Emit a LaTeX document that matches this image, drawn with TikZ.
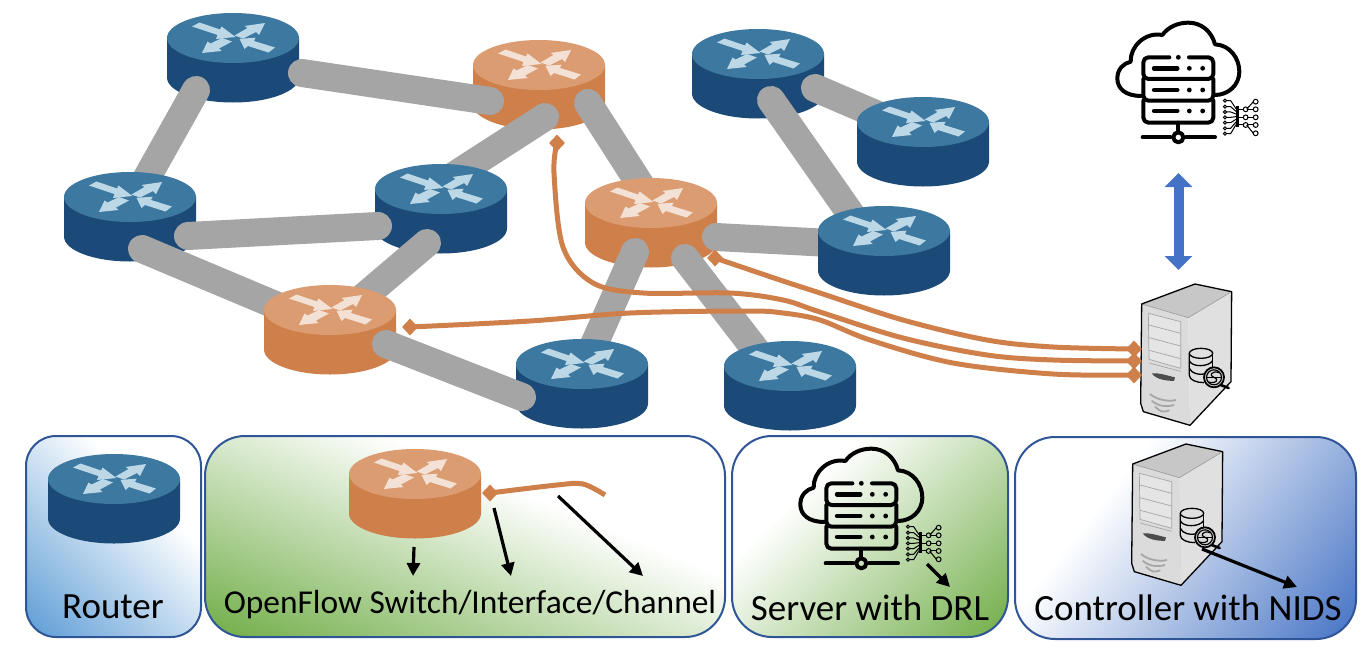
\documentclass[tikz,border=0pt]{standalone}
\usepackage{fontspec}
\setmainfont{Carlito}
\usetikzlibrary{arrows.meta,shapes.geometric,calc}
\definecolor{bluebody}{HTML}{1B4A78}
\definecolor{bluetop}{HTML}{3C789F}
\definecolor{bluearrow}{HTML}{BCD8E6}
\definecolor{orangebody}{HTML}{CF7F49}
\definecolor{orangetop}{HTML}{DC9C72}
\definecolor{orangearrow}{HTML}{F3E1D5}
\definecolor{linkgray}{HTML}{A5A5A5}
\definecolor{boxedge}{HTML}{2F5597}
\definecolor{gradblue}{HTML}{5B9BD5}
\definecolor{gradgreen}{HTML}{70AD47}
\definecolor{graddark}{HTML}{4472C4}
\pgfdeclarehorizontalshading{gradrouter}{100bp}{color(0bp)=(gradblue); color(27.8bp)=(gradblue); color(59.2bp)=(white); color(100bp)=(white)}
\pgfdeclarehorizontalshading{gradflow}{100bp}{color(0bp)=(gradgreen); color(38bp)=(gradgreen); color(53.9bp)=(white); color(100bp)=(white)}
\pgfdeclarehorizontalshading{gradserver}{100bp}{color(0bp)=(white); color(42.15bp)=(white); color(66.8bp)=(gradgreen); color(100bp)=(gradgreen)}
\pgfdeclarehorizontalshading{gradctrl}{100bp}{color(0bp)=(white); color(42.75bp)=(white); color(66.4bp)=(graddark); color(100bp)=(graddark)}
\tikzset{
  glink/.style={draw=linkgray,line width=28pt,line cap=round},
  orline/.style={draw=orangebody,line width=5pt},
  ordiamond/.style={diamond,fill=orangebody,inner sep=0pt,minimum width=16pt,minimum height=17pt},
  blackarrow/.style={draw=black,line width=3.2pt,-{Triangle[width=13pt,length=13pt]}},
  bluearrowline/.style={draw=graddark,line width=10pt,{Triangle[width=27pt,length=14pt]}-{Triangle[width=27pt,length=14pt]}},
  boxedgeline/.style={draw=boxedge,line width=2pt},
  iconline/.style={draw=black,line width=4pt,line cap=round,line join=round},
  chipline/.style={draw=black,line width=1pt},
  lab/.style={inner sep=0pt,text=black}
}
% name, cx, cy, body, top, arrows
\newcommand{\routerfig}[6]{%
  \coordinate (#1) at (#2,#3);
  \begin{scope}[shift={(#2,#3)}]
    \fill[#4] (-66,0) -- (-66,39.5) arc[start angle=180,end angle=360,x radius=66pt,y radius=25pt] -- (66,0) -- cycle;
    \fill[#5] (0,0) ellipse[x radius=66pt,y radius=25pt];
    \fill[#6] (-41,-11.5) -- (-33.5,-15.5) -- (-13,-8.5) -- (-11.5,-11.5) -- (2.5,-1) -- (-17,1) -- (-15.5,-3) -- cycle;
    \fill[#6] (1.5,-2.5) -- (14.5,-10) -- (11.5,-12) -- (32,-15) -- (26,-3) -- (23,-6) -- (10,.5) -- cycle;
    \fill[#6] (-11,0) -- (-1,3.5) -- (-14,10.5) -- (-11.5,13) -- (-31,15) -- (-25.5,3.5) -- (-22.5,5.5) -- cycle;
    \fill[#6] (6.5,.8) -- (22.5,-.3) -- (21,3) -- (42,9.5) -- (35.5,14.5) -- (15,8) -- (11.5,11) -- cycle;
  \end{scope}}
\newcommand{\bluerouter}[3]{\routerfig{#1}{#2}{#3}{bluebody}{bluetop}{bluearrow}}
\newcommand{\orangerouter}[3]{\routerfig{#1}{#2}{#3}{orangebody}{orangetop}{orangearrow}}
% link: name, start, end
\newcommand{\graylink}[3]{%
  \coordinate (#1a) at (#2);
  \coordinate (#1b) at (#3);
  \draw[glink] (#1a) -- (#1b);}
% box: corner, corner, radius, shading, angle, square corner, square corner
\newcommand{\gradbox}[7]{%
  \begin{scope}
    \clip[rounded corners=#3pt] (#1) rectangle (#2);
    \shade[shading=#4,shading angle=#5] (#6) rectangle (#7);
  \end{scope}
  \draw[boxedgeline,rounded corners=#3pt] (#1) rectangle (#2);}
\newcommand{\cloudfig}[2]{%
  \begin{scope}[shift={(#1,#2)},x=.3333pt,y=-.3333pt]
    \draw[iconline] (155,258) .. controls (105,258) and (82,235) .. (82,205) .. controls (82,178) and (100,160) .. (122,155) .. controls (120,110) and (165,65) .. (217,75) .. controls (235,50) and (265,38) .. (295,38) .. controls (335,38) and (365,65) .. (375,103) .. controls (420,105) and (448,145) .. (448,185) .. controls (448,225) and (415,255) .. (375,255);
    \draw[iconline,rounded corners=5pt] (238,142) -- (160,142) -- (160,207) -- (370,207) -- (370,142) -- (297,142);
    \draw[iconline,rounded corners=5pt] (160,207) -- (160,272) -- (370,272) -- (370,207);
    \draw[iconline,rounded corners=5pt] (160,272) -- (160,338) -- (370,338) -- (370,272);
    \fill (265,142) circle[radius=2.4pt];
    \foreach \yy in {175,240,303}{
      \draw[iconline,line width=4.4pt] (192,\yy) -- (262,\yy);
      \fill (298,\yy) circle[radius=2.4pt];
      \fill (338,\yy) circle[radius=2.4pt];
    }
    \draw[iconline] (265,338) -- (265,366);
    \draw[iconline] (158,382) -- (242,382);
    \draw[iconline] (288,382) -- (375,382);
    \draw[iconline] (265,382) circle[radius=5pt];
    % chip
    \draw[black,line width=2pt] (440,288) -- (440,352);
    \draw[black,line width=1.2pt] (446,288) -- (446,352);
    \foreach \ya/\yb in {272/296,290/304,306/312,322/320,338/328,355/336,371/344}{
      \draw[chipline] (405,\ya) circle[radius=1.6pt];
      \draw[chipline] (410,\ya) -- (422,\ya) -- (438,\yb);
    }
    \foreach \ya/\yb in {275/298,298/298,322/322,345/345,370/345}{
      \draw[chipline] (497,\ya) circle[radius=2.4pt];
      \draw[chipline] (490,\ya) -- (470,\yb);
    }
    \foreach \ya in {298,322,345}{
      \draw[chipline] (467,\ya) circle[radius=2.4pt];
      \draw[chipline] (446,\ya) -- (460,\ya);
    }
  \end{scope}}
\newcommand{\towerfig}[2]{%
  \begin{scope}[shift={(#1,#2)},x=.3333pt,y=-.3333pt,line join=round]
    \fill[black!12] (265,143) -- (395,65) -- (393,335) -- (270,466) -- cycle;
    \fill[black!14] (125,102) -- (265,143) -- (270,466) -- (130,425) -- (122,400) -- cycle;
    \fill[black!22] (125,102) -- (285,42) -- (395,65) -- (265,143) -- cycle;
    \fill[black!10] (145,130) -- (242,155) -- (242,295) -- (147,268) -- cycle;
    \draw[black!35,line width=.7pt] (145,130) -- (242,155) -- (242,295) -- (147,268) -- cycle;
    \foreach \yy in {0,38,76,114}{\draw[black!35,line width=.7pt] (147,165+\yy) -- (242,190+\yy);}
    \fill[black!70] (155,310) .. controls (180,308) and (205,318) .. (225,322) -- (222,333) .. controls (200,332) and (170,330) .. cycle;
    \foreach \aa/\bb/\cc/\dd in {150/372/228/390,155/392/222/405,165/410/208/421}{
      \draw[black!35,line width=1.8pt] (\aa,\bb) .. controls (\aa+20,\bb+18) and (\cc-20,\dd+6) .. (\cc,\dd);}
    \draw[black!40,line width=.6pt] (265,143) -- (395,65) (125,102) -- (265,143);
    \draw[black,line width=1.3pt] (125,102) -- (285,42) -- (395,65) -- (393,335) -- (270,466) -- (130,425) -- (122,400) -- cycle;
    \draw[black,line width=1.3pt] (268,250) -- (268,316) .. controls (268,330) and (290,338) .. (312,338);
    \draw[black,line width=1.3pt] (303,250) ellipse[x radius=11.7pt,y radius=5pt];
    \draw[black,line width=1.3pt] (338,250) -- (338,290);
    \draw[black,line width=1.3pt] (268,272) .. controls (275,292) and (325,292) .. (338,272);
    \draw[black,line width=1.3pt] (268,295) .. controls (275,312) and (300,315) .. (312,312);
    \draw[black,line width=2.6pt,line cap=round] (362,345) -- (386,354);
    \draw[black,fill=black!15,line width=1.8pt] (342,322) circle[radius=10pt];
    \draw[black,line width=1.2pt] (342,322) circle[radius=7.5pt];
    \draw[black,line width=1.2pt] (358,308) .. controls (335,300) and (325,318) .. (342,322) .. controls (358,326) and (350,344) .. (326,336);
    \draw[black,line width=1pt] (322,322) -- (362,322);
  \end{scope}}
\begin{document}
\begin{tikzpicture}[x=1pt,y=-1pt]
\useasboundingbox (0,0) rectangle (1367,653);
% network, back to front
\bluerouter{r1}{233}{38}
\orangerouter{r2}{539}{65}
\bluerouter{r3}{758}{54}
\graylink{a}{196,90}{140,190}
\graylink{f}{545,117}{455,175}
\graylink{g}{588,103}{645,192}
\graylink{l}{815,88}{885,118}
\graylink{m}{771,100}{855,220}
\bluerouter{r4}{923}{122}
\bluerouter{r5}{130}{197}
\bluerouter{r6}{441}{189}
\orangerouter{r7}{651}{203}
\graylink{d}{142,249}{280,307}
\graylink{e}{427,243}{360,300}
\graylink{h}{716,237}{830,243}
\graylink{i}{635,252}{585,365}
\graylink{j}{685,258}{765,362}
\bluerouter{r8}{884}{231}
\orangerouter{r9}{330}{310}
\bluerouter{r10}{582}{364}
\bluerouter{r11}{790}{366}
\graylink{b}{302,73}{490,101}
\graylink{c}{188,236}{378,226}
\graylink{k}{386,344}{522,397}
% top right icons
\cloudfig{1090}{10}
\towerfig{1100}{270}
\coordinate (vT) at (1178.5,173);
\coordinate (vB) at (1178.5,270);
\draw[bluearrowline] (vT) -- (vB);
% orange links
\node[ordiamond] (d2) at (557,143) {};
\node[ordiamond] (d7) at (715,258) {};
\node[ordiamond] (d9) at (410,327) {};
\node[ordiamond] (ce1) at (1134,349) {};
\node[ordiamond] (ce2) at (1134,361) {};
\node[ordiamond] (ce3) at (1134,375) {};
\draw[orline] plot[smooth,tension=.55] coordinates {(d7.center) (783,281) (820,293) (903,320) (987,340) (1053,347) (ce1.center)};
\draw[orline] plot[smooth,tension=.55] coordinates {(d2.center) (554,173) (563,247) (593,283) (643,293) (730,293) (783,300) (820,312) (903,338) (987,355) (1053,360) (ce2.center)};
\draw[orline] plot[smooth,tension=.55] coordinates {(d9.center) (530,321) (630,313) (747,311) (783,313) (820,320) (870,340) (953,363) (1053,374) (ce3.center)};
% legend boxes
\gradbox{26,436}{201,637}{30}{gradrouter}{45}{-37,386}{263,686}
\gradbox{205,436}{725,637}{40}{gradflow}{67.5}{65,136}{865,936}
\gradbox{732,436}{1008,637}{40}{gradserver}{-46}{620,286}{1120,786}
\gradbox{1015,437}{1356,639}{40}{gradctrl}{-38}{885,237}{1485,837}
\bluerouter{lr}{114}{479}
\orangerouter{lo}{415}{474}
\node[ordiamond] (ld) at (490,493) {};
\coordinate (lc) at (605,495);
\draw[orline] plot[smooth,tension=.55] coordinates {(ld.center) (557,485) (583,484) (lc)};
\cloudfig{773}{436}
\towerfig{1091}{430}
% pointer arrows
\coordinate (p1a) at (414,547); \coordinate (p1b) at (413,576);
\coordinate (p2a) at (494,508); \coordinate (p2b) at (511,576);
\coordinate (p3a) at (558,496); \coordinate (p3b) at (643,576);
\coordinate (p4a) at (927,564); \coordinate (p4b) at (950,587);
\coordinate (p5a) at (1202,549); \coordinate (p5b) at (1297,587);
\draw[blackarrow] (p1a) -- (p1b);
\draw[blackarrow] (p2a) -- (p2b);
\draw[blackarrow] (p3a) -- (p3b);
\draw[blackarrow] (p4a) -- (p4b);
\draw[blackarrow] (p5a) -- (p5b);
% labels
\node[lab,font=\fontsize{37}{42}\selectfont] (t1) at (113,607) {Router};
\node[lab,font=\fontsize{33.4}{38}\selectfont] (t2) at (470,605) {OpenFlow Switch/Interface/Channel};
\node[lab,font=\fontsize{37}{42}\selectfont] (t3) at (870,608) {Server with DRL};
\node[lab,font=\fontsize{37}{42}\selectfont] (t4) at (1188,608) {Controller with NIDS};
\end{tikzpicture}
\end{document}
